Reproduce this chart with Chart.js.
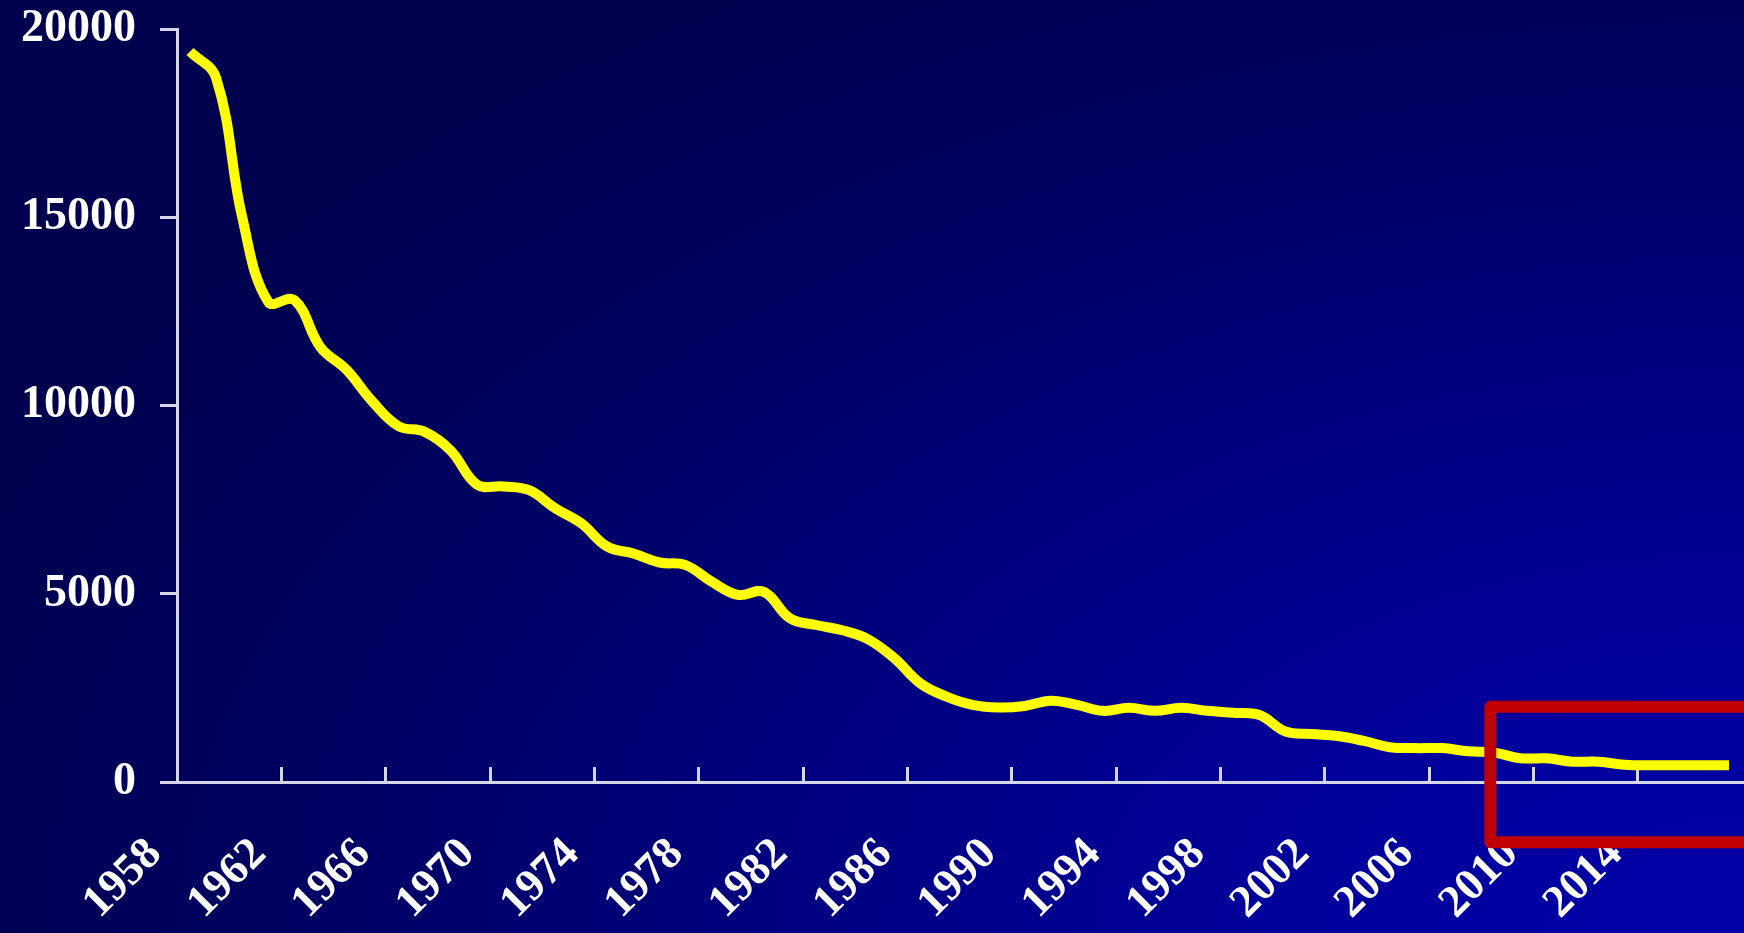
<!DOCTYPE html>
<html lang="en">
<head>
    <meta charset="UTF-8">
    <title>Trend 1958-2017</title>
    <script src="https://cdn.jsdelivr.net/npm/chart.js"></script>
    <style>
        html, body {
            margin: 0;
            padding: 0;
        }
        body {
            width: 1744px;
            height: 933px;
            overflow: hidden;
            background: radial-gradient(ellipse 110% 120% at 100% 100%, #0000a8 0%, #00009a 25%, #000080 50%, #000062 75%, #00004e 100%);
        }
        #wrap {
            width: 1744px;
            height: 933px;
        }
    </style>
</head>
<body>
    <div id="wrap"><canvas id="trendChart"></canvas></div>
    <script>
        const years = [
            '1958', '1959', '1960', '1961', '1962', '1963', '1964', '1965', '1966', '1967',
            '1968', '1969', '1970', '1971', '1972', '1973', '1974', '1975', '1976', '1977',
            '1978', '1979', '1980', '1981', '1982', '1983', '1984', '1985', '1986', '1987',
            '1988', '1989', '1990', '1991', '1992', '1993', '1994', '1995', '1996', '1997',
            '1998', '1999', '2000', '2001', '2002', '2003', '2004', '2005', '2006', '2007',
            '2008', '2009', '2010', '2011', '2012', '2013', '2014', '2015', '2016', '2017'
        ];
        const values = [
            19400, 18700, 15000, 12750, 12800, 11550, 10950, 10100, 9450, 9300,
            8800, 7900, 7850, 7750, 7270, 6870, 6250, 6070, 5830, 5760,
            5320, 4970, 5050, 4350, 4170, 4030, 3790, 3290, 2620, 2270,
            2050, 1980, 2020, 2160, 2050, 1890, 1970, 1890, 1970, 1890,
            1840, 1780, 1340, 1275, 1220, 1090, 925, 900, 900, 815,
            780, 630, 630, 540, 540, 460, 445, 445, 445, 445
        ];
        const yTicks = [0, 5000, 10000, 15000, 20000];
        const labelEvery = 4;

        // highlight box (red frame around the last years)
        const boxStartYear = '2008';
        const boxTop = 2000;
        const boxBottom = -1600;

        const axisColor = '#d6d6ea';
        const labelFont = '"Liberation Serif", "Times New Roman", serif';

        const highlightBox = {
            id: 'highlightBox',
            afterDraw(chart) {
                const x = chart.scales.x;
                const y = chart.scales.y;
                const ctx = chart.ctx;
                const left = x.getPixelForValue(years.indexOf(boxStartYear) - 0.15);
                const top = y.getPixelForValue(boxTop);
                const bottom = y.getPixelForValue(boxBottom);
                ctx.save();
                ctx.strokeStyle = '#c00000';
                ctx.lineWidth = 12;
                ctx.lineJoin = 'round';
                ctx.strokeRect(left, top, chart.width + 20 - left, bottom - top);
                ctx.restore();
            }
        };

        const ctx = document.getElementById('trendChart').getContext('2d');
        const chart = new Chart(ctx, {
            type: 'line',
            data: {
                labels: years,
                datasets: [{
                    data: values,
                    borderColor: '#ffff00',
                    borderWidth: 10,
                    pointRadius: 0,
                    tension: 0.4,
                    borderCapStyle: 'butt',
                    borderJoinStyle: 'round',
                    fill: false
                }]
            },
            options: {
                responsive: true,
                maintainAspectRatio: false,
                animation: false,
                layout: {
                    padding: { left: 0, top: 0, right: 2, bottom: 0 }
                },
                plugins: {
                    legend: { display: false },
                    tooltip: { enabled: false }
                },
                scales: {
                    x: {
                        offset: true,
                        grid: {
                            offset: true,
                            drawOnChartArea: false,
                            drawTicks: true,
                            tickLength: -15,   // marks point up into the plot
                            lineWidth: 3,
                            color: (c) => (c.index % labelEvery === 0 ? axisColor : 'rgba(0,0,0,0)')
                        },
                        border: { display: true, color: axisColor, width: 3 },
                        ticks: {
                            autoSkip: false,
                            minRotation: 45,
                            maxRotation: 45,
                            padding: 61,
                            labelOffset: -35,
                            color: '#ffffff',
                            font: { family: labelFont, size: 45, weight: 'bold' },
                            callback: (v, i) => (i % labelEvery === 0 ? years[i] : '')
                        },
                        // big label padding would otherwise eat the side space
                        afterFit: (scale) => {
                            scale.paddingLeft = 0;
                            scale.paddingRight = 0;
                            scale.height = 151;
                        }
                    },
                    y: {
                        min: yTicks[0],
                        max: yTicks[yTicks.length - 1],
                        afterBuildTicks: (scale) => { scale.ticks = yTicks.map(v => ({ value: v })); },
                        grid: {
                            drawOnChartArea: false,
                            drawTicks: true,
                            tickLength: 17,
                            lineWidth: 3,
                            color: axisColor
                        },
                        border: { display: true, color: axisColor, width: 3 },
                        ticks: {
                            padding: 24,
                            color: '#ffffff',
                            font: { family: labelFont, size: 46, weight: 'bold' },
                            callback: (v) => String(v)
                        },
                        afterFit: (scale) => {
                            scale.width = 177;
                            scale.paddingTop = 29;
                            scale.paddingBottom = 0;
                        }
                    }
                }
            },
            plugins: [highlightBox]
        });
    </script>
</body>
</html>
